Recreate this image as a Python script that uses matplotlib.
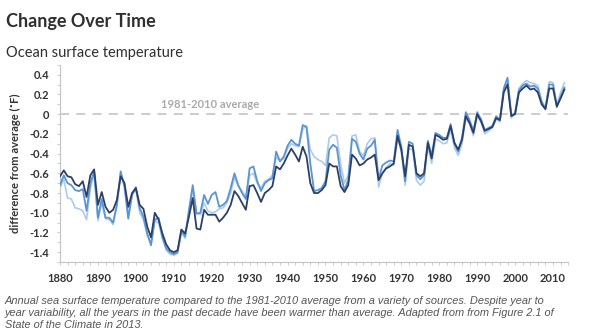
import matplotlib
matplotlib.use("Agg")
import matplotlib.pyplot as plt
from matplotlib.ticker import MultipleLocator
import numpy as np

years = list(range(1880, 2014))

dark = [-0.63, -0.57, -0.63, -0.64, -0.71, -0.73, -0.68, -0.84, -0.62, -0.56,
        -0.92, -0.79, -0.94, -1.00, -0.97, -0.87, -0.63, -0.70, -0.94, -0.80,
        -0.75, -0.92, -0.96, -1.14, -1.25, -1.00, -1.07, -1.21, -1.32, -1.38,
        -1.40, -1.38, -1.17, -1.21, -1.04, -0.85, -1.16, -1.17, -0.97, -1.02,
        -1.02, -1.02, -1.09, -1.05, -1.00, -0.92, -0.78, -0.83, -0.90, -0.97,
        -0.73, -0.72, -0.80, -0.89, -0.80, -0.77, -0.73, -0.53, -0.56, -0.50,
        -0.42, -0.35, -0.41, -0.48, -0.33, -0.43, -0.70, -0.80, -0.80, -0.77,
        -0.72, -0.50, -0.53, -0.53, -0.73, -0.79, -0.72, -0.41, -0.45, -0.52,
        -0.50, -0.46, -0.44, -0.41, -0.67, -0.60, -0.55, -0.53, -0.50, -0.22,
        -0.36, -0.63, -0.31, -0.33, -0.60, -0.63, -0.60, -0.29, -0.45, -0.21,
        -0.23, -0.26, -0.25, -0.12, -0.29, -0.36, -0.26, -0.02, -0.09, -0.19,
        0.00, -0.07, -0.17, -0.15, -0.13, -0.04, -0.06, 0.22, 0.30, -0.02,
        0.00, 0.22, 0.26, 0.29, 0.25, 0.26, 0.22, 0.10, 0.05, 0.26,
        0.26, 0.08, 0.16, 0.25]

medium = [-0.72, -0.62, -0.70, -0.72, -0.77, -0.78, -0.76, -0.98, -0.70, -0.58,
          -1.05, -0.86, -1.05, -1.05, -1.10, -0.92, -0.58, -0.74, -1.06, -0.82,
          -0.74, -0.95, -1.04, -1.21, -1.33, -1.07, -1.05, -1.25, -1.36, -1.40,
          -1.42, -1.40, -1.18, -1.24, -0.97, -0.72, -1.01, -1.00, -0.82, -0.91,
          -0.82, -0.79, -0.94, -0.92, -0.88, -0.75, -0.60, -0.72, -0.80, -0.86,
          -0.55, -0.53, -0.68, -0.78, -0.70, -0.67, -0.65, -0.38, -0.48, -0.43,
          -0.32, -0.26, -0.30, -0.32, -0.11, -0.13, -0.50, -0.78, -0.77, -0.75,
          -0.68, -0.36, -0.31, -0.34, -0.62, -0.77, -0.67, -0.25, -0.28, -0.40,
          -0.46, -0.35, -0.32, -0.26, -0.66, -0.52, -0.49, -0.47, -0.48, -0.16,
          -0.33, -0.68, -0.28, -0.30, -0.62, -0.66, -0.62, -0.27, -0.42, -0.19,
          -0.21, -0.24, -0.24, -0.10, -0.30, -0.38, -0.24, 0.02, -0.06, -0.17,
          0.02, -0.05, -0.16, -0.14, -0.12, -0.02, -0.06, 0.26, 0.37, -0.01,
          0.01, 0.24, 0.29, 0.31, 0.28, 0.29, 0.26, 0.12, 0.06, 0.30,
          0.30, 0.07, 0.18, 0.27]

light = [-0.75, -0.66, -0.85, -0.86, -0.95, -0.96, -0.98, -1.07, -0.76, -0.60,
         -1.08, -0.90, -1.06, -1.07, -1.12, -0.93, -0.60, -0.70, -1.02, -0.82,
         -0.76, -1.00, -1.07, -1.23, -1.30, -1.07, -1.11, -1.26, -1.38, -1.42,
         -1.43, -1.41, -1.20, -1.26, -1.00, -0.76, -1.00, -1.02, -0.90, -0.98,
         -1.00, -0.99, -0.96, -0.95, -0.90, -0.80, -0.64, -0.73, -0.78, -0.84,
         -0.62, -0.60, -0.70, -0.75, -0.68, -0.66, -0.62, -0.44, -0.47, -0.45,
         -0.35, -0.30, -0.32, -0.33, -0.15, -0.12, -0.36, -0.43, -0.46, -0.48,
         -0.52, -0.24, -0.21, -0.22, -0.50, -0.70, -0.62, -0.22, -0.21, -0.38,
         -0.42, -0.30, -0.25, -0.24, -0.74, -0.60, -0.54, -0.50, -0.52, -0.24,
         -0.38, -0.72, -0.35, -0.36, -0.67, -0.72, -0.68, -0.33, -0.50, -0.25,
         -0.27, -0.30, -0.29, -0.16, -0.34, -0.42, -0.30, -0.04, -0.10, -0.22,
         -0.02, -0.08, -0.20, -0.17, -0.14, -0.05, -0.08, 0.24, 0.35, -0.04,
         0.02, 0.26, 0.31, 0.34, 0.32, 0.31, 0.29, 0.14, 0.06, 0.33,
         0.32, 0.10, 0.22, 0.32]

x_ticks = [1880, 1890, 1900, 1910, 1920, 1930, 1940, 1950, 1960, 1970, 1980, 1990, 2000, 2010]
y_ticks = [0.4, 0.2, 0, -0.2, -0.4, -0.6, -0.8, -1.0, -1.2, -1.4]
y_tick_labels = ["0.4", "0.2", "0", "-0.2", "-0.4", "-0.6", "-0.8", "-1.0", "-1.2", "-1.4"]

title = "Change Over Time"
subtitle = "Ocean surface temperature"
ylabel = "difference from average (˚F)"
avg_label = "1981-2010 average"
caption = ("Annual sea surface temperature compared to the 1981-2010 average from a variety of sources. Despite year to\n"
           "year variability, all the years in the past decade have been warmer than average. Adapted from from Figure 2.1 of\n"
           "State of the Climate in 2013.")

FONT = "Lato"

fig = plt.figure(figsize=(6.0, 3.36), dpi=100)
fig.patch.set_facecolor("white")
ax = fig.add_axes([0.1, 0.22, 0.847, 0.587])

ax.axhline(0, color="#c8c8c8", lw=1.3, ls=(0, (5, 4)), zorder=1)
ax.plot(years, light, color="#aecbeb", lw=1.2, zorder=2)
ax.plot(years, medium, color="#5a94d2", lw=1.3, zorder=3)
ax.plot(years, dark, color="#2d3f66", lw=1.3, zorder=4)

ax.set_xlim(1880, 2014)
ax.set_ylim(-1.5, 0.5)
ax.set_xticks(x_ticks)
ax.set_xticklabels([str(t) for t in x_ticks])
ax.xaxis.set_minor_locator(MultipleLocator(2))
ax.set_yticks(y_ticks)
ax.set_yticklabels(y_tick_labels)
ax.yaxis.set_minor_locator(MultipleLocator(0.1))

for s in ["top", "right"]:
    ax.spines[s].set_visible(False)
for s in ["left", "bottom"]:
    ax.spines[s].set_color("#c4c4c4")
    ax.spines[s].set_linewidth(0.8)

ax.tick_params(axis="both", which="both", colors="#c4c4c4", length=2, width=0.6)
ax.tick_params(axis="x", which="major", pad=6)
ax.tick_params(axis="y", which="major", pad=6)
for lab in ax.get_xticklabels() + ax.get_yticklabels():
    lab.set_color("#333333")
    lab.set_fontsize(8)
    lab.set_fontweight("bold")
    lab.set_family(FONT)

ax.set_ylabel(ylabel, fontsize=8, fontweight="bold", color="#333333", family=FONT, labelpad=6)

ax.text(1906.5, 0.04, avg_label, fontsize=8, fontweight="bold", color="#aaaaaa",
        family=FONT, va="bottom", ha="left")

fig.text(0.01, 0.935, title, fontsize=13, fontweight="bold", color="#2f2f2f",
         family=FONT, va="center", ha="left")
fig.text(0.01, 0.842, subtitle, fontsize=10.5, color="#2f2f2f",
         family=FONT, va="center", ha="left")
fig.text(0.008, 0.118, caption, fontsize=7.9, style="italic", color="#555555",
         family="Liberation Sans", va="top", ha="left", linespacing=1.22)

fig.savefig("out.png", dpi=100, facecolor="white")
